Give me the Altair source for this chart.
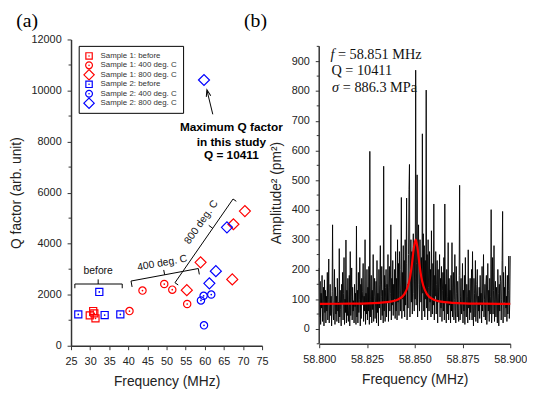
import altair as alt
import pandas as pd

# ---------------- Panel (a) data ----------------
series_names = ["Sample 1: before", "Sample 1: 400 deg. C", "Sample 1: 800 deg. C",
                "Sample 2: before", "Sample 2: 400 deg. C", "Sample 2: 800 deg. C"]
series_colors = ["#ff0000", "#ff0000", "#ff0000", "#0000ff", "#0000ff", "#0000ff"]
series_shapes = ["square", "circle", "diamond", "square", "circle", "diamond"]
series_sizes = [52, 55, 125, 52, 55, 125]
legend_sizes = [42, 48, 110, 42, 48, 110]

s1_before_f = [29.9, 30.8, 31.1, 31.4]
s1_before_q = [1190, 1358, 1267, 1073]
s1_400_f = [40.3, 43.7, 49.4, 51.5, 55.4]
s1_400_q = [1358, 2160, 2418, 2198, 1636]
s1_800_f = [55.3, 58.9, 67.2, 67.5, 70.5]
s1_800_q = [2176, 3268, 2600, 4760, 5275]
s2_before_f = [26.9, 32.4, 33.8, 37.9]
s2_before_q = [1228, 2108, 1203, 1228]
s2_400_f = [59.0, 59.7, 59.8, 61.7]
s2_400_q = [1775, 1956, 799, 2006]
s2_800_f = [59.8, 61.2, 62.9, 65.8]
s2_800_q = [10411, 2446, 2921, 4640]

all_f = [s1_before_f, s1_400_f, s1_800_f, s2_before_f, s2_400_f, s2_800_f]
all_q = [s1_before_q, s1_400_q, s1_800_q, s2_before_q, s2_400_q, s2_800_q]

rows = []
for name, col, fs, qs, shp, sz in zip(series_names, series_colors, all_f, all_q, series_shapes,
                                      series_sizes):
    for f, q in zip(fs, qs):
        rows.append({"x": f, "y": q, "series": name, "c": col, "shape": shp, "sz": sz,
                     "diam": shp == "diamond"})
df_pts = pd.DataFrame(rows)

# legend entries (drawn as marks inside the plot's top-left corner)
df_leg = pd.DataFrame({
    "series": series_names, "c": series_colors, "shape": series_shapes, "sz": legend_sizes,
    "ly": [16.7 + i * 9.6 for i in range(len(series_names))],
})

# bracket annotation segments (data coordinates)
br_x = [26.0, 26.0, 38.4, 32.1, 40.7, 40.7, 58.3, 49.5, 52.2, 52.2, 67.4, 62.08]
br_y = [2419, 2419, 2419, 2419, 2535, 2535, 3025, 2780, 2470, 2470, 5749, 4601]
br_x2 = [38.4, 26.0, 38.4, 32.1, 58.3, 40.98, 58.58, 49.26, 67.4, 53.05, 68.25, 61.05]
br_y2 = [2419, 2253, 2253, 2600, 3025, 2304, 2794, 2970, 5749, 2381, 5660, 4717]
df_br = pd.DataFrame({"x": br_x, "y": br_y, "x2": br_x2, "y2": br_y2})

br_text = ["before", "400 deg. C", "800 deg. C"]
br_text_x = [32.1, 48.87, 59.1]
br_text_y = [2932, 3237, 4838]
br_text_ang = [0, 349.5, 304.8]
df_brt = pd.DataFrame({"x": br_text_x, "y": br_text_y, "t": br_text, "ang": br_text_ang})

arrow_x = [62.1]
arrow_y = [9068]
arrow_x2 = [60.6]
arrow_y2 = [9990]
df_arrow = pd.DataFrame({"x": arrow_x, "y": arrow_y, "x2": arrow_x2, "y2": arrow_y2})
df_head = pd.DataFrame({"x": [60.77], "y": [9901]})

max_text = ["Maximum Q factor", "in this study", "Q = 10411"]
max_text_x = [66.96, 66.96, 66.96]
max_text_y = [8554, 7976, 7474]
df_max = pd.DataFrame({"x": max_text_x, "y": max_text_y, "t": max_text})

minor_a = [1000, 3000, 5000, 7000, 9000, 11000]
df_minor_a = pd.DataFrame({"y": minor_a})

# ---------------- Panel (b) data ----------------
noise_amp = [
    205, 40, 160, 15, 120, 70, 180, 25, 95, 140, 10, 165, 55, 130, 20, 110, 60, 190, 30, 100,
    235, 20, 80, 150, 45, 110, 10, 125, 350, 60, 30, 95, 200, 15, 140, 50, 110, 25, 170, 60,
    90, 20, 270, 40, 130, 65, 10, 150, 85, 190, 30, 120, 240, 15, 100, 55, 299, 20, 130, 45,
    170, 25, 80, 180, 10, 260, 45, 110, 205, 30, 140, 60, 95, 20, 150, 75, 120, 15, 346, 40,
    130, 20, 190, 55, 100, 240, 10, 150, 35, 170, 80, 125, 220, 25, 110, 60, 300, 15, 120, 50,
    200, 30, 140, 60, 210, 15, 597, 40, 100, 180, 20, 130, 65, 250, 25, 110, 170, 35, 90, 160,
    20, 230, 55, 120, 10, 200, 70, 150, 280, 30, 110, 210, 45, 130, 20, 547, 60, 180, 25, 140,
    200, 40, 150, 90, 250, 25, 140, 210, 60, 120, 350, 30, 170, 80, 230, 45, 150, 100, 200, 35,
    260, 60, 170, 30, 300, 90, 220, 45, 260, 130, 60, 200, 442, 35, 190, 100, 280, 60, 230, 40,
    300, 80, 220, 440, 30, 150, 70, 250, 468, 553, 40, 180, 300, 90, 260, 50, 230, 320, 120, 60,
    280, 100, 870, 80, 220, 518, 40, 260, 350, 150, 60, 300, 190, 90, 240, 30, 656, 120, 320, 60,
    280, 40, 230, 100, 803, 70, 250, 30, 300, 140, 60, 260, 90, 200, 40, 330, 110, 50, 220, 80,
    420, 30, 180, 110, 260, 50, 150, 230, 20, 200, 90, 140, 250, 40, 170, 70, 210, 25, 130, 190,
    60, 240, 30, 420, 90, 150, 20, 200, 110, 50, 290, 30, 170, 80, 130, 20, 180, 60, 290, 40,
    140, 190, 30, 100, 250, 60, 20, 210, 120, 40, 160, 70, 25, 180, 483, 30, 110, 170, 50, 90,
    220, 20, 130, 60, 180, 15, 240, 90, 40, 150, 110, 20, 266, 70, 130, 30, 170, 55, 100, 200,
    30, 260, 70, 10, 170, 120, 40, 230, 25, 90, 150, 200, 20, 110, 60, 140, 35, 180, 80, 120,
    20, 210, 60, 120, 250, 40, 100, 150, 30, 150, 180, 15, 90, 220, 60, 130, 25, 170, 50, 110,
    401, 20, 90, 240, 50, 130, 280, 25, 100, 160, 40, 140, 80, 20, 200, 120, 10, 150, 60, 180,
    160, 30, 100, 230, 395, 20, 190, 90, 140, 40, 210, 70, 110, 25, 180, 50, 130, 245, 35, 90,
    245,
]
noise_freq = [round(58.8 + i * 0.00025, 5) for i in range(len(noise_amp))]
df_noise = pd.DataFrame({"x": noise_freq, "y": noise_amp})

fit_freq = [58.800, 58.8155, 58.8255, 58.8355, 58.8415, 58.8445, 58.8465, 58.8475,
            58.8485, 58.8495, 58.8505, 58.8515, 58.8525, 58.8535, 58.8545, 58.8565,
            58.8595, 58.8655, 58.8755, 58.8855, 58.900]
fit_amp = [84, 85, 86, 90, 100, 116, 145, 172, 216, 270, 300, 270, 216, 172, 145, 116,
           100, 90, 86, 85, 84]
df_fit = pd.DataFrame({"x": fit_freq, "y": fit_amp})

minor_b = [-50, 50, 150, 250, 350, 450, 550, 650, 750, 850, 950]
df_minor_b = pd.DataFrame({"y": minor_b})
df_dom_b = pd.DataFrame({"x": [58.8], "y": [-50], "y2": [950]})

# ---------------- Panel (a) ----------------
W, H = 194, 311
sx_a = alt.Scale(domain=[25, 75], nice=False, zero=False)
sy_a = alt.Scale(domain=[0, 12000], nice=False)
ax_xa = alt.Axis(values=list(range(25, 80, 5)), title="Frequency (MHz)", format="d")
ax_ya = alt.Axis(values=list(range(0, 12001, 2000)), title="Q factor (arb. unit)", format="d")


def XA(f="x"):
    return alt.X(f"{f}:Q", scale=sx_a, axis=ax_xa)


def YA(f="y"):
    return alt.Y(f"{f}:Q", scale=sy_a, axis=ax_ya)


pts = alt.Chart(df_pts).mark_point(filled=False, strokeWidth=1.2, opacity=1).encode(
    x=XA(), y=YA(),
    stroke=alt.Stroke("c:N", scale=None),
    shape=alt.Shape("shape:N", scale=None),
    size=alt.Size("sz:Q", scale=None),
)
dots = alt.Chart(df_pts).transform_filter("!datum.diam").mark_circle(size=3, opacity=1).encode(
    x=XA(), y=YA(),
    color=alt.Color("c:N", scale=None),
)
minor_ticks_a = alt.Chart(df_minor_a).mark_rule(color="#333", strokeWidth=1).encode(
    y=YA(), x=alt.value(-2.5), x2=alt.value(0)
)
brackets = alt.Chart(df_br).mark_rule(color="black", strokeWidth=1).encode(
    x=XA(), y=YA(), x2="x2:Q", y2="y2:Q"
)
br_labels = alt.Chart(df_brt).mark_text(font="Liberation Sans", fontSize=10.5, color="#111",
                                       baseline="middle", align="center").encode(
    x=XA(), y=YA(), text="t:N", angle=alt.Angle("ang:Q", scale=None)
)
arrow = alt.Chart(df_arrow).mark_rule(color="black", strokeWidth=1).encode(
    x=XA(), y=YA(), x2="x2:Q", y2="y2:Q"
)
head = alt.Chart(df_head).mark_point(shape="M-0.6,0.9L0,-0.9L0.6,0.9", filled=False,
                                     color="black", strokeWidth=1, size=60, angle=346.5,
                                     opacity=1).encode(x=XA(), y=YA())
max_lbl = alt.Chart(df_max).mark_text(font="Liberation Sans", fontSize=12, fontWeight="bold",
                                      color="black", align="center", baseline="middle").encode(
    x=XA(), y=YA(), text="t:N"
)
lab_a = alt.Chart(pd.DataFrame({"t": ["(a)"]})).mark_text(
    font="Liberation Serif", fontSize=20, align="left", baseline="middle", color="black"
).encode(text="t:N", x=alt.value(-55.7), y=alt.value(-19))

# legend box, symbols and labels
leg_box = alt.Chart(pd.DataFrame({"k": [0]})).mark_rect(
    fill="white", stroke="black", strokeWidth=1
).encode(x=alt.value(8.3), x2=alt.value(114.3), y=alt.value(7), y2=alt.value(75))
leg_sym = alt.Chart(df_leg).mark_point(filled=False, strokeWidth=1.2, opacity=1).encode(
    x=alt.value(18.3), y=alt.Y("ly:Q", scale=None),
    stroke=alt.Stroke("c:N", scale=None),
    shape=alt.Shape("shape:N", scale=None),
    size=alt.Size("sz:Q", scale=None),
)
leg_dot = alt.Chart(df_leg).transform_filter("datum.shape != 'diamond'").mark_circle(
    size=2.5, opacity=1
).encode(x=alt.value(18.3), y=alt.Y("ly:Q", scale=None), color=alt.Color("c:N", scale=None))
leg_txt = alt.Chart(df_leg).mark_text(font="Liberation Sans", fontSize=8, color="#333",
                                      align="left", baseline="middle").encode(
    x=alt.value(30), y=alt.Y("ly:Q", scale=None), text="series:N"
)

panel_a = alt.layer(brackets, arrow, head, br_labels, max_lbl, minor_ticks_a, pts, dots,
                    leg_box, leg_sym, leg_dot, leg_txt, lab_a).properties(width=W, height=H)

# ---------------- Panel (b) ----------------
sx_b = alt.Scale(domain=[58.8, 58.9], nice=False, zero=False)
sy_b = alt.Scale(domain=[-56.6, 973.2], nice=False, zero=False)
ax_xb = alt.Axis(values=[58.8, 58.825, 58.85, 58.875, 58.9], format=".3f",
                 title="Frequency (MHz)", offset=-2)
ax_yb = alt.Axis(values=list(range(0, 901, 100)), format="d", title="Amplitude² (pm²)",
                 domain=False)


def XB(f="x"):
    return alt.X(f"{f}:Q", scale=sx_b, axis=ax_xb)


def YB(f="y"):
    return alt.Y(f"{f}:Q", scale=sy_b, axis=ax_yb)


noise = alt.Chart(df_noise).mark_line(color="black", strokeWidth=0.9).encode(x=XB(), y=YB())
fit = alt.Chart(df_fit).mark_line(color="#ff0000", strokeWidth=2.2, interpolate="monotone").encode(
    x=XB(), y=YB()
)
dom_b = alt.Chart(df_dom_b).mark_rule(color="#333", strokeWidth=1.5).encode(
    x=XB(), y=YB(), y2="y2:Q"
)
minor_ticks_b = alt.Chart(df_minor_b).mark_rule(color="#333", strokeWidth=1).encode(
    y=YB(), x=alt.value(-2.5), x2=alt.value(0)
)
info = pd.DataFrame({
    "t": ["f", "= 58.851 MHz", "Q = 10411", "\u03c3", "= 886.3 MPa"],
    "style": ["italic", "normal", "normal", "italic", "normal"],
    "px": [11.5, 19.0, 12.4, 13.0, 24.0],
    "py": [16, 16, 32, 49, 49],
})
info_it = alt.Chart(info).transform_filter("datum.style == 'italic'").mark_text(
    font="Liberation Serif", fontSize=14.5, fontStyle="italic", align="left", baseline="middle",
    color="#111"
).encode(text="t:N", x=alt.X("px:Q", scale=None), y=alt.Y("py:Q", scale=None))
info_n = alt.Chart(info).transform_filter("datum.style == 'normal'").mark_text(
    font="Liberation Serif", fontSize=14.5, align="left", baseline="middle", color="#111"
).encode(text="t:N", x=alt.X("px:Q", scale=None), y=alt.Y("py:Q", scale=None))
lab_b = alt.Chart(pd.DataFrame({"t": ["(b)"]})).mark_text(
    font="Liberation Serif", fontSize=20, align="left", baseline="middle", color="black"
).encode(text="t:N", x=alt.value(-76.3), y=alt.value(-19))

panel_b = alt.layer(noise, fit, dom_b, minor_ticks_b, info_it, info_n, lab_b).properties(
    width=W, height=H
)

chart = alt.hconcat(panel_a, panel_b, spacing=58, bounds="flush").properties(
    padding={"left": 1, "top": 0, "right": 0, "bottom": 0}
).configure_view(stroke=None).configure_axis(
    labelFont="Liberation Sans", labelFontSize=11, labelColor="#222",
    titleFont="Liberation Sans", titleFontSize=14, titleFontWeight="normal", titleColor="#222",
    domainColor="#333", domainWidth=1.5, tickColor="#333", tickSize=4, tickWidth=1,
    grid=False, labelPadding=6, titlePadding=8, labelFlush=False, labelOverlap=False
)

chart.save("out.html", embed_options={"renderer": "svg", "actions": False})
